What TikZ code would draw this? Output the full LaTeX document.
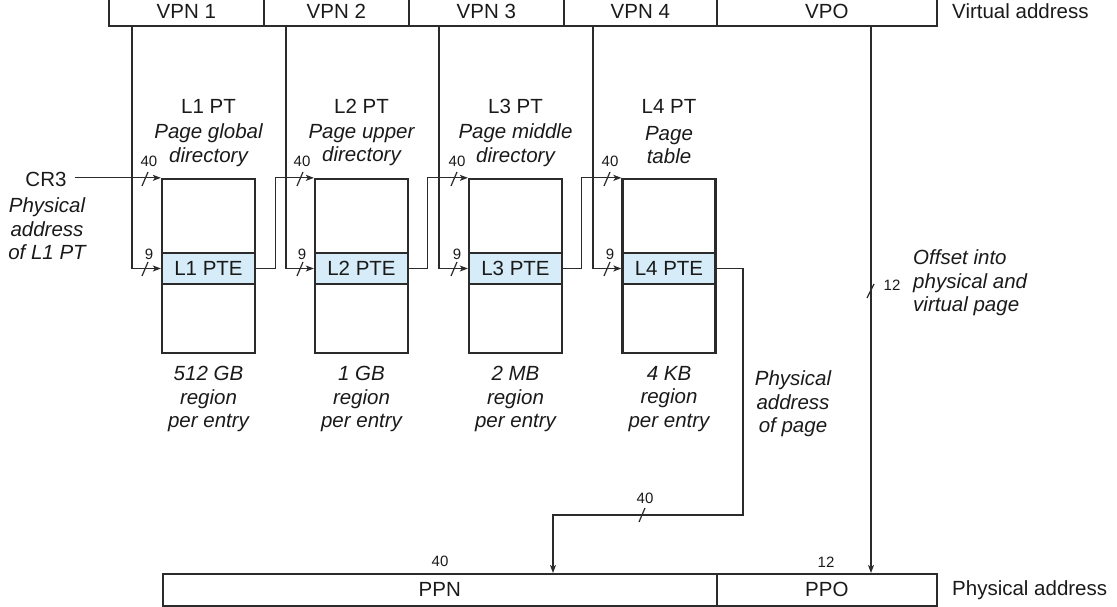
\documentclass[tikz,border=0pt]{standalone}
\usepackage{fontspec}
\setmainfont{Liberation Sans}
\usetikzlibrary{arrows.meta}
\definecolor{ln}{HTML}{2B2B2B}
\definecolor{txt}{HTML}{1A1A1A}
\definecolor{ptefill}{HTML}{D6ECF8}
\begin{document}
\begin{tikzpicture}[x=1pt,y=-1pt,
  font=\fontsize{20.5}{23.5}\selectfont, text=txt,
  field/.style={draw=ln, line width=1.6pt, minimum height=26pt, inner sep=0pt, anchor=north west},
  tabbox/.style={draw=ln, line width=2.3pt, minimum width=93pt, minimum height=174pt, inner sep=0pt},
  ptebox/.style={draw=ln, line width=2.3pt, fill=ptefill, minimum width=93pt, minimum height=31pt, inner sep=0pt},
  conn/.style={draw=ln, line width=1.2pt, -{Stealth[length=8pt,width=6pt,inset=2pt]}},
  tk/.style={draw=ln, line width=1.2pt},
  small/.style={font=\fontsize{15}{17}\selectfont, inner sep=0pt},
  lbl/.style={align=center, inner sep=0pt},
  ilbl/.style={align=center, inner sep=0pt, font=\fontsize{20.5}{23.5}\selectfont\itshape},
]
\useasboundingbox (0,0) rectangle (1117,607);

% virtual address (top edge lies just outside the picture)
\begin{scope}[field/.append style={minimum height=29pt}]
\node[field, minimum width=155pt] (vpn1) at (108,-4) {\raisebox{-1.5pt}{VPN 1}};
\node[field, minimum width=145pt] (vpn2) at (263,-4) {\raisebox{-1.5pt}{VPN 2}};
\node[field, minimum width=155pt] (vpn3) at (408,-4) {\raisebox{-1.5pt}{VPN 3}};
\node[field, minimum width=153pt] (vpn4) at (563,-4) {\raisebox{-1.5pt}{VPN 4}};
\node[field, minimum width=220pt] (vpo) at (716,-4) {\raisebox{-1.5pt}{VPO}};
\end{scope}
\node[anchor=west, inner sep=0pt] (valbl) at (952,11) {Virtual address};

% tables
\foreach \i/\x in {1/208.5, 2/361.5, 3/515.5, 4/669} {
  \node[tabbox] (tab\i) at (\x,266) {};
  \node[ptebox] (pte\i) at (\x,268.5) {L\i{} PTE};
  \node[lbl] (name\i) at (\x,106) {L\i{} PT};
}
\node[ilbl] (desc1) at (208.5,145) {Page global\\directory};
\node[ilbl] (desc2) at (361.5,145) {Page upper\\directory};
\node[ilbl] (desc3) at (515.5,145) {Page middle\\directory};
\node[ilbl] (desc4) at (669,145) {Page\\table};

\node[ilbl] (reg1) at (208.5,399) {512 GB\\region\\per entry};
\node[ilbl] (reg2) at (361.5,399) {1 GB\\region\\per entry};
\node[ilbl] (reg3) at (515.5,399) {2 MB\\region\\per entry};
\node[ilbl] (reg4) at (669,399) {4 KB\\region\\per entry};

% CR3
\node[lbl] (cr3) at (46,179) {CR3};
\node[ilbl] (cr3d) at (47,229) {Physical\\address\\of L1 PT};
\draw[conn] (cr3.east |- tab1.north) ++(8,0) -- (tab1.north west);

% physical address
\node[field, minimum width=554pt, minimum height=32pt] (ppn) at (162,573) {PPN};
\node[field, minimum width=220pt, minimum height=32pt] (ppo) at (716,573) {PPO};
\node[anchor=west, inner sep=0pt] (palbl) at (952,590) {Physical address};

% VPN lines
\coordinate (v1) at (132,25);
\coordinate (v2) at (286,25);
\coordinate (v3) at (439,25);
\coordinate (v4) at (593,25);
\coordinate (vo) at (871,25);
\draw[conn] (v1) |- (pte1.west);
\draw[conn] (v2) |- (pte2.west);
\draw[conn] (v3) |- (pte3.west);
\draw[conn] (v4) |- (pte4.west);

% PTE to next table
\draw[conn] (pte1.east) -- ++(19,0) |- (tab2.north west);
\draw[conn] (pte2.east) -- ++(18,0) |- (tab3.north west);
\draw[conn] (pte3.east) -- ++(18,0) |- (tab4.north west);

% L4 PTE to PPN
\coordinate (c4) at (743,515);
\coordinate (c5) at (553,515);
\draw[conn] (pte4.east) -| (c4) -- (c5) -- (c5 |- ppn.north);

% VPO to PPO
\draw[conn] (vo) -- (vo |- ppo.north);

% tick marks and widths
\foreach \x in {145, 300, 454, 607} {
  \draw[tk] (\x,179) +(-3,7) -- +(3,-7);
  \draw[tk] (\x,269) +(-3,7) -- +(3,-7);
}
\node[small] (w40a) at (149,161) {40};
\node[small] (w9a) at (149,254) {9};
\node[small] (w40b) at (302,161) {40};
\node[small] (w9b) at (302,254) {9};
\node[small] (w40c) at (457,161) {40};
\node[small] (w9c) at (457,254) {9};
\node[small] (w40d) at (610,161) {40};
\node[small] (w9d) at (610,254) {9};

\draw[tk] (642,515) +(-3,7) -- +(3,-7);
\node[small] (w40e) at (645,498) {40};
\draw[tk] (870.5,291) +(-3.5,7) -- +(3.5,-7);
\node[small] (w12a) at (892,285) {12};
\node[align=left, anchor=west, inner sep=0pt, font=\fontsize{20.5}{23.5}\selectfont\itshape] (offs) at (913,283) {Offset into\\physical and\\virtual page};
\node[ilbl] (ppage) at (793,404) {Physical\\address\\of page};

\node[small] (w40f) at (440,561) {40};
\node[small] (w12b) at (826,562) {12};
\end{tikzpicture}
\end{document}
